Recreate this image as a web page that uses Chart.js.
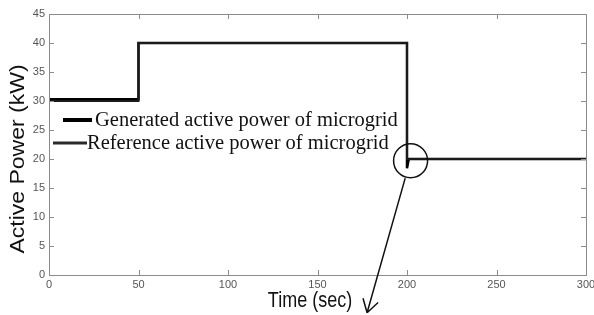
<!DOCTYPE html>
<html>
<head>
<meta charset="utf-8">
<script src="https://cdn.jsdelivr.net/npm/chart.js@4.4.1/dist/chart.umd.min.js"></script>
<style>
    html, body { margin: 0; padding: 0; background: #fff; }
    #wrap { width: 594px; height: 315px; }
</style>
</head>
<body>
<div id="wrap"><canvas id="chart"></canvas></div>
<script>
// ====================== DATA ======================
const seriesLabels = ['Generated active power of microgrid', 'Reference active power of microgrid'];

const timeGen  = [0, 50, 50, 200, 200, 201, 300];
const powerGen = [30.3, 30.3, 40, 40, 18.4, 20, 20];

const timeRef  = [0, 50, 50, 200, 200, 300];
const powerRef = [30, 30, 40, 40, 20, 20];

const xTickValues = [0, 50, 100, 150, 200, 250, 300];
const yTickValues = [0, 5, 10, 15, 20, 25, 30, 35, 40, 45];

const xTitle = 'Time (sec)';
const yTitle = 'Active Power (kW)';

// zoom mark around the step at t = 200 s (data coords)
const circleAt = [202, 19.7];
const arrowFrom = [199, 16.7];
const arrowTo   = [177.7, -6.5];

const FRAME = '#8c8c8c';
const TICK_TEXT = '#555';

const toPoints = (xs, ys) => xs.map((x, i) => ({ x, y: ys[i] }));

// frame on four sides with MATLAB-style inward ticks
const framePlugin = {
    id: 'frame',
    afterDatasetsDraw(chart) {
        const { ctx, chartArea: a, scales: { x, y } } = chart;
        const len = 5;
        ctx.save();
        ctx.strokeStyle = FRAME;
        ctx.lineWidth = 1;
        ctx.strokeRect(a.left + 0.5, a.top + 0.5, a.right - a.left, a.bottom - a.top);
        ctx.beginPath();
        x.ticks.forEach(t => {
            const px = Math.round(x.getPixelForValue(t.value)) + 0.5;
            ctx.moveTo(px, a.bottom); ctx.lineTo(px, a.bottom - len);
            ctx.moveTo(px, a.top);    ctx.lineTo(px, a.top + len);
        });
        y.ticks.forEach(t => {
            const py = Math.round(y.getPixelForValue(t.value)) + 0.5;
            ctx.moveTo(a.left, py);  ctx.lineTo(a.left + len, py);
            ctx.moveTo(a.right, py); ctx.lineTo(a.right - len, py);
        });
        ctx.stroke();
        ctx.restore();
    }
};

// legend inside the plot, serif text, plus axis titles
const textPlugin = {
    id: 'texts',
    afterDraw(chart) {
        const { ctx, chartArea: a } = chart;
        ctx.save();

        // legend
        ctx.strokeStyle = '#000';
        ctx.lineWidth = 4;
        ctx.beginPath(); ctx.moveTo(a.left + 14, a.top + 106); ctx.lineTo(a.left + 43, a.top + 106); ctx.stroke();
        ctx.strokeStyle = '#2a2a2a';
        ctx.lineWidth = 3;
        ctx.beginPath(); ctx.moveTo(a.left + 4, a.top + 129); ctx.lineTo(a.left + 38, a.top + 129); ctx.stroke();

        ctx.fillStyle = '#111';
        ctx.font = '20.5px "Liberation Serif", "Times New Roman", serif';
        ctx.textBaseline = 'middle';
        ctx.fillText(seriesLabels[0], a.left + 46, a.top + 107);
        ctx.fillText(seriesLabels[1], a.left + 38, a.top + 130);

        // axis titles (the source image is a little stretched vertically)
        ctx.font = '18px "Liberation Sans", Arial, sans-serif';
        ctx.textAlign = 'center';
        ctx.save();
        ctx.translate(310, 301);
        ctx.scale(1, 1.2);
        ctx.fillText(xTitle, 0, 0);
        ctx.restore();

        ctx.font = '20px "Liberation Sans", Arial, sans-serif';
        ctx.save();
        ctx.translate(18, 159);
        ctx.rotate(-Math.PI / 2);
        ctx.scale(1.15, 1);
        ctx.fillText(yTitle, 0, 0);
        ctx.restore();

        ctx.restore();
    }
};

// circle + arrow annotation placed through the scales
const zoomMarkPlugin = {
    id: 'zoomMark',
    afterDraw(chart) {
        const { ctx, scales: { x, y } } = chart;
        const cx = x.getPixelForValue(circleAt[0]);
        const cy = y.getPixelForValue(circleAt[1]);
        const x1 = x.getPixelForValue(arrowFrom[0]), y1 = y.getPixelForValue(arrowFrom[1]);
        const x2 = x.getPixelForValue(arrowTo[0]),   y2 = y.getPixelForValue(arrowTo[1]);
        ctx.save();
        ctx.strokeStyle = '#111';
        ctx.lineWidth = 1.5;
        ctx.beginPath();
        ctx.arc(cx, cy, 17, 0, Math.PI * 2);
        ctx.stroke();

        ctx.beginPath();
        ctx.moveTo(x1, y1); ctx.lineTo(x2, y2);
        const ang = Math.atan2(y1 - y2, x1 - x2);
        const head = 15;
        [-0.55, 0.55].forEach(d => {
            ctx.moveTo(x2, y2);
            ctx.lineTo(x2 + head * Math.cos(ang + d), y2 + head * Math.sin(ang + d));
        });
        ctx.stroke();
        ctx.restore();
    }
};

new Chart(document.getElementById('chart').getContext('2d'), {
    type: 'line',
    data: {
        datasets: [
            {
                label: seriesLabels[1],
                data: toPoints(timeRef, powerRef),
                borderColor: '#1a1a1a',
                borderWidth: 2,
                pointRadius: 0,
                tension: 0,
                fill: false
            },
            {
                label: seriesLabels[0],
                data: toPoints(timeGen, powerGen),
                borderColor: '#000',
                borderWidth: 2.5,
                pointRadius: 0,
                tension: 0,
                fill: false
            }
        ]
    },
    options: {
        responsive: true,
        maintainAspectRatio: false,
        animation: false,
        layout: { padding: { top: 14, right: 8, left: 0, bottom: 0 } },
        plugins: { legend: { display: false }, tooltip: { enabled: false } },
        scales: {
            x: {
                type: 'linear',
                min: 0, max: 300,
                afterBuildTicks: s => { s.ticks = xTickValues.map(v => ({ value: v })); },
                afterFit: s => { s.height = 40; s.paddingLeft = 0; s.paddingRight = 0; },
                grid: { display: false, drawTicks: false, tickLength: 0 },
                border: { display: false },
                ticks: { color: TICK_TEXT, font: { size: 11, family: 'Liberation Sans' }, padding: 3, maxRotation: 0 }
            },
            y: {
                type: 'linear',
                min: 0, max: 45,
                afterBuildTicks: s => { s.ticks = yTickValues.map(v => ({ value: v })); },
                afterFit: s => { s.width = 49; s.paddingTop = 0; s.paddingBottom = 0; },
                grid: { display: false, drawTicks: false, tickLength: 0 },
                border: { display: false },
                ticks: { color: TICK_TEXT, font: { size: 11, family: 'Liberation Sans' }, padding: 4 }
            }
        }
    },
    plugins: [framePlugin, textPlugin, zoomMarkPlugin]
});
</script>
</body>
</html>
